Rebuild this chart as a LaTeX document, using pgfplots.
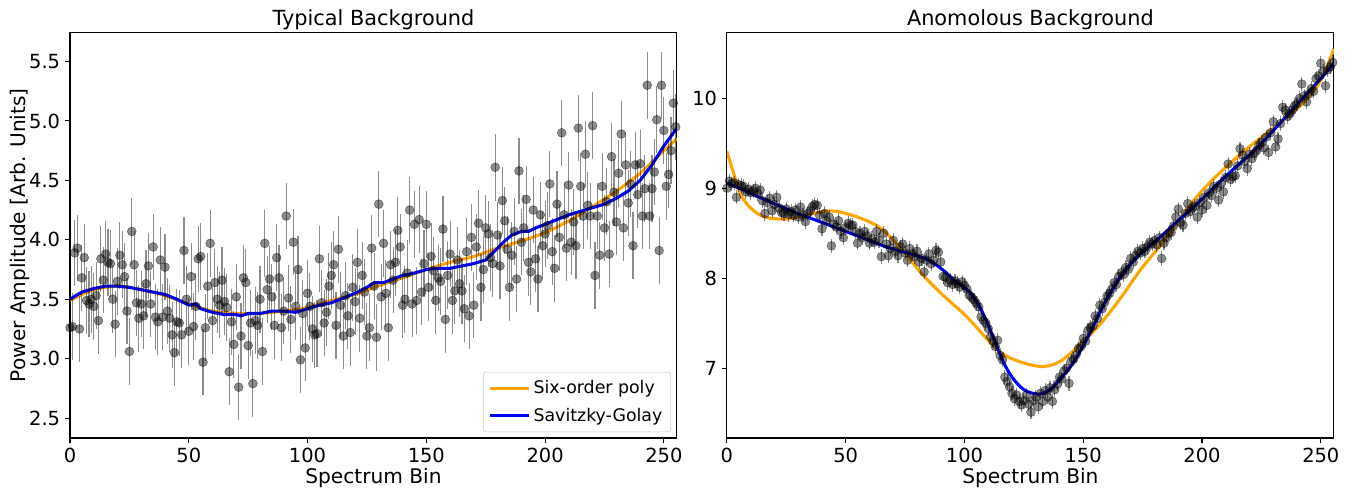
\documentclass[border=0pt]{standalone}
\usepackage{fontspec}
\setmainfont{DejaVu Sans}
\usepackage{pgfplots}
\usepackage{pgfplotstable}
\pgfplotsset{compat=1.18}

\definecolor{sgblue}{HTML}{0000FF}
\definecolor{polyorange}{HTML}{FFA500}

% typical background, bin / amplitude
\pgfplotstableread[row sep=\\]{
x y\\
0 3.26\\ 1 3.27\\ 2 3.89\\ 3 3.93\\ 4 3.25\\ 5 3.68\\ 6 3.85\\ 7 3.49\\
8 3.46\\ 9 3.50\\ 10 3.44\\ 11 3.53\\ 12 3.32\\ 13 3.84\\ 14 3.66\\ 15 3.88\\
16 3.81\\ 17 3.80\\ 18 3.50\\ 19 3.29\\ 20 3.65\\ 21 3.87\\ 22 3.79\\ 23 3.69\\
24 3.40\\ 25 3.06\\ 26 4.07\\ 27 3.79\\ 28 3.47\\ 29 3.34\\ 30 3.46\\ 31 3.36\\
32 3.63\\ 33 3.78\\ 34 3.46\\ 35 3.94\\ 36 3.35\\ 37 3.31\\ 38 3.83\\ 39 3.35\\
40 3.77\\ 41 3.40\\ 42 3.34\\ 43 3.20\\ 44 3.05\\ 45 3.31\\ 46 3.30\\ 47 3.20\\
48 3.91\\ 49 3.50\\ 50 3.23\\ 51 3.69\\ 52 3.27\\ 53 3.44\\ 54 3.84\\ 55 3.86\\
56 2.97\\ 57 3.26\\ 58 3.61\\ 59 3.97\\ 60 3.32\\ 61 3.64\\ 62 3.50\\ 63 3.45\\
64 3.66\\ 65 3.48\\ 66 3.43\\ 67 2.89\\ 68 3.31\\ 69 3.12\\ 70 3.52\\ 71 2.76\\
72 3.19\\ 73 3.68\\ 74 3.64\\ 75 3.11\\ 76 3.30\\ 77 2.79\\ 78 3.32\\ 79 3.28\\
80 3.50\\ 81 3.06\\ 82 3.97\\ 83 3.58\\ 84 3.67\\ 85 3.52\\ 86 3.28\\ 87 3.85\\
88 3.68\\ 89 3.26\\ 90 3.40\\ 91 4.20\\ 92 3.51\\ 93 3.33\\ 94 3.98\\ 95 3.44\\
96 3.75\\ 97 2.99\\ 98 3.38\\ 99 3.09\\ 100 3.55\\ 101 3.44\\ 102 3.25\\ 103 3.20\\
104 3.21\\ 105 3.84\\ 106 3.47\\ 107 3.30\\ 108 3.39\\ 109 3.61\\ 110 3.70\\ 111 3.79\\
112 3.28\\ 113 3.92\\ 114 3.45\\ 115 3.19\\ 116 3.53\\ 117 3.36\\ 118 3.22\\ 119 3.60\\
120 3.48\\ 121 3.81\\ 122 3.34\\ 123 3.70\\ 124 3.56\\ 125 3.19\\ 126 3.26\\ 127 3.93\\
128 3.61\\ 129 3.18\\ 130 4.30\\ 131 3.52\\ 132 3.97\\ 133 3.55\\ 134 3.26\\ 135 3.79\\
136 3.66\\ 137 3.81\\ 138 4.08\\ 139 3.94\\ 140 3.45\\ 141 3.50\\ 142 3.72\\ 143 4.25\\
144 3.46\\ 145 4.13\\ 146 3.49\\ 147 4.17\\ 148 3.56\\ 149 3.80\\ 150 4.13\\ 151 3.60\\
152 3.86\\ 153 3.74\\ 154 3.49\\ 155 3.68\\ 156 3.65\\ 157 4.09\\ 158 3.33\\ 159 3.70\\
160 3.88\\ 161 3.49\\ 162 3.57\\ 163 3.83\\ 164 3.63\\ 165 3.57\\ 166 3.42\\ 167 3.90\\
168 3.36\\ 169 4.02\\ 170 3.45\\ 171 3.94\\ 172 4.14\\ 173 3.60\\ 174 3.75\\ 175 4.10\\
176 4.05\\ 177 3.85\\ 178 3.80\\ 179 4.61\\ 180 4.04\\ 181 3.78\\ 182 4.33\\ 183 4.16\\
184 3.92\\ 185 3.60\\ 186 3.87\\ 187 4.07\\ 188 3.67\\ 189 4.58\\ 190 3.98\\ 191 4.10\\
192 4.34\\ 193 3.81\\ 194 3.73\\ 195 4.25\\ 196 3.84\\ 197 3.67\\ 198 4.21\\ 199 3.95\\
200 4.05\\ 201 4.12\\ 202 4.47\\ 203 3.90\\ 204 3.76\\ 205 4.30\\ 206 4.02\\ 207 4.90\\
208 4.21\\ 209 3.93\\ 210 4.46\\ 211 3.98\\ 212 4.15\\ 213 3.95\\ 214 4.94\\ 215 4.45\\
216 4.20\\ 217 4.72\\ 218 4.29\\ 219 4.20\\ 220 4.96\\ 221 3.70\\ 222 4.20\\ 223 3.87\\
224 4.45\\ 225 4.10\\ 226 4.32\\ 227 3.88\\ 228 4.70\\ 229 4.40\\ 230 4.15\\ 231 4.56\\
232 4.89\\ 233 4.10\\ 234 4.63\\ 235 4.31\\ 236 4.47\\ 237 3.95\\ 238 4.63\\ 239 4.38\\
240 4.64\\ 241 4.20\\ 242 4.43\\ 243 5.30\\ 244 4.20\\ 245 4.43\\ 246 4.57\\ 247 5.01\\
248 3.91\\ 249 5.30\\ 250 4.92\\ 251 4.45\\ 252 4.55\\ 253 4.75\\ 254 5.15\\ 255 4.95\\
}\typical

% anomalous background
\pgfplotstableread[row sep=\\]{
x y\\
0 9.00\\ 1 9.08\\ 2 9.05\\ 3 9.06\\ 4 8.90\\ 5 9.04\\ 6 9.03\\ 7 9.02\\
8 8.96\\ 9 8.99\\ 10 8.95\\ 11 8.97\\ 12 9.00\\ 13 8.94\\ 14 8.98\\ 15 8.86\\
16 8.72\\ 17 8.84\\ 18 8.89\\ 19 8.75\\ 20 8.82\\ 21 8.90\\ 22 8.78\\ 23 8.73\\
24 8.72\\ 25 8.77\\ 26 8.71\\ 27 8.74\\ 28 8.70\\ 29 8.76\\ 30 8.68\\ 31 8.79\\
32 8.70\\ 33 8.63\\ 34 8.72\\ 35 8.75\\ 36 8.80\\ 37 8.82\\ 38 8.81\\ 39 8.70\\
40 8.55\\ 41 8.72\\ 42 8.64\\ 43 8.68\\ 44 8.36\\ 45 8.60\\ 46 8.57\\ 47 8.64\\
48 8.52\\ 49 8.45\\ 50 8.56\\ 51 8.61\\ 52 8.59\\ 53 8.59\\ 54 8.52\\ 55 8.39\\
56 8.50\\ 57 8.45\\ 58 8.52\\ 59 8.47\\ 60 8.39\\ 61 8.44\\ 62 8.40\\ 63 8.52\\
64 8.42\\ 65 8.24\\ 66 8.50\\ 67 8.38\\ 68 8.25\\ 69 8.33\\ 70 8.42\\ 71 8.30\\
72 8.25\\ 73 8.35\\ 74 8.38\\ 75 8.28\\ 76 8.20\\ 77 8.33\\ 78 8.27\\ 79 8.24\\
80 8.30\\ 81 8.18\\ 82 8.22\\ 83 8.07\\ 84 8.20\\ 85 8.27\\ 86 8.16\\ 87 8.20\\
88 8.31\\ 89 8.29\\ 90 8.18\\ 91 8.02\\ 92 8.01\\ 93 7.95\\ 94 7.98\\ 95 7.93\\
96 7.97\\ 97 7.94\\ 98 7.90\\ 99 7.96\\ 100 7.92\\ 101 7.88\\ 102 7.81\\ 103 7.79\\
104 7.76\\ 105 7.72\\ 106 7.68\\ 107 7.57\\ 108 7.53\\ 109 7.50\\ 110 7.44\\ 111 7.35\\
112 7.30\\ 113 7.24\\ 114 7.31\\ 115 7.14\\ 116 7.09\\ 117 6.90\\ 118 6.85\\ 119 6.79\\
120 6.72\\ 121 6.66\\ 122 6.70\\ 123 6.63\\ 124 6.59\\ 125 6.64\\ 126 6.70\\ 127 6.60\\
128 6.51\\ 129 6.64\\ 130 6.68\\ 131 6.57\\ 132 6.72\\ 133 6.63\\ 134 6.75\\ 135 6.68\\
136 6.78\\ 137 6.63\\ 138 6.76\\ 139 6.82\\ 140 6.90\\ 141 6.88\\ 142 6.97\\ 143 7.00\\
144 6.83\\ 145 7.08\\ 146 7.10\\ 147 7.15\\ 148 7.22\\ 149 7.24\\ 150 7.33\\ 151 7.30\\
152 7.42\\ 153 7.45\\ 154 7.47\\ 155 7.58\\ 156 7.55\\ 157 7.70\\ 158 7.66\\ 159 7.73\\
160 7.80\\ 161 7.83\\ 162 7.88\\ 163 7.95\\ 164 7.93\\ 165 8.02\\ 166 8.06\\ 167 8.04\\
168 8.12\\ 169 8.10\\ 170 8.22\\ 171 8.18\\ 172 8.25\\ 173 8.30\\ 174 8.28\\ 175 8.33\\
176 8.30\\ 177 8.35\\ 178 8.40\\ 179 8.38\\ 180 8.42\\ 181 8.37\\ 182 8.45\\ 183 8.22\\
184 8.39\\ 185 8.45\\ 186 8.50\\ 187 8.51\\ 188 8.58\\ 189 8.68\\ 190 8.77\\ 191 8.62\\
192 8.59\\ 193 8.72\\ 194 8.83\\ 195 8.74\\ 196 8.78\\ 197 8.80\\ 198 8.68\\ 199 8.84\\
200 8.76\\ 201 8.90\\ 202 8.81\\ 203 8.95\\ 204 8.92\\ 205 9.02\\ 206 9.00\\ 207 8.87\\
208 9.05\\ 209 8.96\\ 210 9.12\\ 211 9.27\\ 212 9.10\\ 213 9.13\\ 214 9.14\\ 215 9.25\\
216 9.44\\ 217 9.37\\ 218 9.30\\ 219 9.22\\ 220 9.38\\ 221 9.33\\ 222 9.39\\ 223 9.42\\
224 9.48\\ 225 9.51\\ 226 9.45\\ 227 9.57\\ 228 9.40\\ 229 9.62\\ 230 9.74\\ 231 9.46\\
232 9.55\\ 233 9.72\\ 234 9.90\\ 235 9.87\\ 236 9.80\\ 237 9.83\\ 238 9.87\\ 239 9.92\\
240 9.94\\ 241 10.00\\ 242 10.16\\ 243 10.03\\ 244 9.96\\ 245 10.05\\ 246 10.11\\ 247 10.08\\
248 10.22\\ 249 10.25\\ 250 10.39\\ 251 10.30\\ 252 10.14\\ 253 10.32\\ 254 10.35\\ 255 10.40\\
}\anomalous

\pgfplotsset{
  panel/.style={
    scale only axis, width=437pt, height=292pt,
    xmin=0, xmax=255.5, xtick={0,50,100,150,200,250},
    tick pos=left, tick align=outside, major tick length=3.6pt,
    tick style={black, line width=0.8pt}, axis line style={line width=0.8pt},
    tick label style={font=\fontsize{14}{16}\selectfont},
    label style={font=\fontsize{14.5}{16}\selectfont},
    title style={font=\fontsize{15}{17}\selectfont, yshift=-7.5pt},
    /pgf/number format/assume math mode=true,
    xlabel={Spectrum Bin}, xlabel style={yshift=3pt},
    scaled ticks=false, clip=true,
  },
  pts/.style={only marks, mark=*, mark size=3.2pt,
    mark options={draw=black, fill=black, draw opacity=0.45, fill opacity=0.45},
    error bars/y dir=both,
    error bars/y fixed=#1,
    error bars/error bar style={black, opacity=0.45, line width=0.8pt},
    error bars/error mark=none},
}

\begin{document}
\begin{tikzpicture}
\begin{axis}[panel, at={(0,0)}, anchor=south west,
  ymin=2.332, ymax=5.744, ytick={2.5,3.0,3.5,4.0,4.5,5.0,5.5},
  yticklabel style={/pgf/number format/fixed, /pgf/number format/fixed zerofill, /pgf/number format/precision=1},
  ylabel={Power Amplitude [Arb. Units]}, ylabel style={yshift=-7.5pt},
  title={Typical Background},
  legend style={at={(1,0)}, xshift=-4.3pt, yshift=4.3pt, anchor=south east,
    font=\fontsize{12.5}{15}\selectfont, draw=black!20, rounded corners=2pt,
    fill=white, fill opacity=0.8, text opacity=1, inner xsep=4pt, inner ysep=4pt,
    row sep=5pt},
  legend cell align=left,
  legend image code/.code={\draw[#1, line width=2.2pt] (0pt,0pt) -- (28pt,0pt);}]
\addplot[polyorange, line width=2.2pt, smooth] coordinates {(0,3.49) (10,3.58) (20,3.61) (30,3.58) (40,3.53) (50,3.46) (60,3.40) (70,3.38) (80,3.38) (90,3.40) (100,3.43) (110,3.49) (120,3.54) (128,3.60) (140,3.68) (150,3.75) (160,3.81) (170,3.86) (180,3.93) (190,3.99) (200,4.06) (210,4.16) (220,4.28) (230,4.41) (240,4.56) (250,4.75) (255.5,4.85)};
\addlegendentry{Six-order poly}
\addplot[sgblue, line width=2.2pt, line join=round] coordinates {(0,3.50) (5,3.56) (10,3.59) (15,3.61) (20,3.61) (25,3.60) (30,3.58) (35,3.56) (40,3.54) (45,3.50) (50,3.45) (53,3.46) (55,3.42) (60,3.39) (65,3.37) (70,3.37) (72,3.36) (75,3.38) (80,3.38) (85,3.40) (90,3.40) (95,3.39) (100,3.42) (105,3.45) (110,3.47) (115,3.51) (120,3.55) (125,3.60) (128,3.64) (132,3.64) (136,3.67) (140,3.70) (145,3.72) (150,3.75) (155,3.76) (160,3.76) (165,3.78) (170,3.80) (175,3.83) (180,3.93) (183,3.99) (186,4.04) (190,4.07) (193,4.07) (196,4.10) (200,4.13) (205,4.17) (210,4.21) (215,4.24) (220,4.27) (225,4.30) (230,4.35) (235,4.41) (240,4.50) (245,4.63) (250,4.79) (255.5,4.94)};
\addlegendentry{Savitzky-Golay}
\addplot[pts=0.28, forget plot] table[x=x, y=y] {\typical};
\end{axis}

\begin{axis}[panel, at={(473pt,0)}, anchor=south west,
  ymin=6.222, ymax=10.733, ytick={7,8,9,10},
  title={Anomolous Background}]
\addplot[polyorange, line width=2.2pt, smooth] coordinates {(0,9.41) (3,9.15) (6,8.92) (10,8.78) (16,8.68) (26,8.66) (40,8.74) (47,8.74) (57,8.66) (65,8.55) (74,8.31) (82,8.05) (91,7.81) (101,7.57) (116,7.16) (131,7.02) (140,7.07) (149,7.27) (157.5,7.50) (166,7.79) (174,8.09) (182,8.35) (190,8.63) (197,8.88) (205,9.11) (218,9.42) (232,9.71) (243,9.96) (250,10.20) (255.5,10.55)};
\addplot[sgblue, line width=2.2pt, smooth] coordinates {(0,9.06) (12,8.92) (26,8.76) (40,8.62) (54,8.48) (68,8.34) (80,8.25) (85,8.20) (91,8.09) (96,7.97) (102,7.85) (106,7.70) (110,7.48) (116,7.09) (120,6.90) (125,6.76) (131,6.71) (136,6.76) (140,6.87) (145,7.03) (149,7.20) (153,7.40) (157,7.62) (161,7.82) (166,8.03) (170,8.16) (174,8.27) (182,8.45) (190,8.64) (200,8.88) (211,9.16) (222,9.42) (232,9.70) (243,10.02) (250,10.22) (255.5,10.39)};
\addplot[pts=0.08, forget plot] table[x=x, y=y] {\anomalous};
\end{axis}

\pgfresetboundingbox
\path[use as bounding box] (-50.4pt,-36pt) rectangle (924.5pt,315.4pt);
\end{tikzpicture}
\end{document}
